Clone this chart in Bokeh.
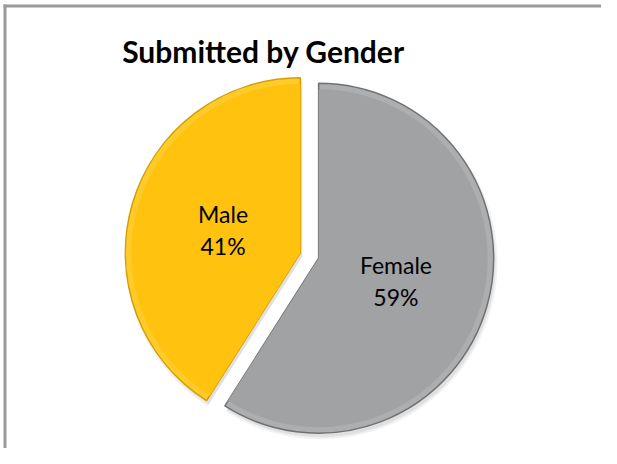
import numpy as np
from bokeh.plotting import figure
from bokeh.models import Range1d, Label, ColumnDataSource
from bokeh.core.properties import value
from bokeh.embed import file_html
from bokeh.resources import INLINE

# ---- data ----
title_text = "Submitted by Gender"
categories = ["Female", "Male"]
shares = [59, 41]

# ---- layout (image pixel coordinates; y measured downward in the picture) ----
W, H = 601, 448
IMG_H = 464
p = figure(width=W, height=H, output_backend="svg", toolbar_location=None,
           x_range=Range1d(0, W), y_range=Range1d(IMG_H - H, IMG_H),
           min_border=0)
p.axis.visible = False
p.grid.visible = False
p.outline_line_color = None
p.background_fill_color = "white"
p.border_fill_color = "white"

cx, cy = 309, IMG_H - 255
R = 175
explode = 9.5
label_dist = 90

fracs = np.array(shares, dtype=float) / sum(shares)
cum = np.cumsum(fracs)
starts = np.pi / 2 - 2 * np.pi * np.concatenate([[0.0], cum[:-1]])
ends = np.pi / 2 - 2 * np.pi * cum
mids = (starts + ends) / 2
xs = cx + explode * np.cos(mids)
ys = cy + explode * np.sin(mids)

base_colors = ["#A1A2A4", "#FFC30F"]
rim_colors = ["#ADAEB0", "#FFCB2B"]
edge_colors = ["#707173", "#D29F00"]

src = ColumnDataSource(dict(x=xs, y=ys, start=starts, end=ends,
                            base=base_colors, rim=rim_colors, edge=edge_colors,
                            sx=xs + 2, sy=ys - 4))

# chart border strips (only the top and left edges fall inside the picture)
bl, bt, bw = 3, 4, 3
border_src = ColumnDataSource(dict(
    left=[bl, bl], right=[W, bl + bw],
    top=[IMG_H - bt, IMG_H - bt], bottom=[IMG_H - bt - bw, IMG_H - H]))
p.quad(left="left", right="right", top="top", bottom="bottom", source=border_src,
       fill_color="#9A9A9A", line_color=None)

# soft shadow
p.wedge(x="sx", y="sy", radius=R + 2, start_angle="start", end_angle="end",
        direction="clock", source=src, fill_color="black", fill_alpha=0.05,
        line_color=None)
p.wedge(x="sx", y="sy", radius=R, start_angle="start", end_angle="end",
        direction="clock", source=src, fill_color="black", fill_alpha=0.07,
        line_color=None)
# rim (bevel)
p.wedge(x="x", y="y", radius=R, start_angle="start", end_angle="end",
        direction="clock", source=src, fill_color="rim", line_color="edge",
        line_width=1.5)
# inner face
p.wedge(x="x", y="y", radius=R - 6, start_angle="start", end_angle="end",
        direction="clock", source=src, fill_color="base", line_color=None)

# labels
lsrc = ColumnDataSource(dict(
    x=cx + label_dist * np.cos(mids),
    y=cy + label_dist * np.sin(mids),
    name=categories,
    pct=[f"{v}%" for v in shares]))
common = dict(text_font=value("Lato"), text_font_size=value("23px"),
              text_align="center", text_baseline="middle", text_color="#000000")
p.text(x="x", y="y", text="name", y_offset=-16, source=lsrc, **common)
p.text(x="x", y="y", text="pct", y_offset=16, source=lsrc, **common)

# title
p.add_layout(Label(x=263, y=IMG_H - 50, text=title_text, text_align="center",
                   text_baseline="middle", text_font="Lato",
                   text_font_style="bold", text_font_size="30px",
                   text_color="#000000"))

open("out.html", "w").write(file_html(p, INLINE))
